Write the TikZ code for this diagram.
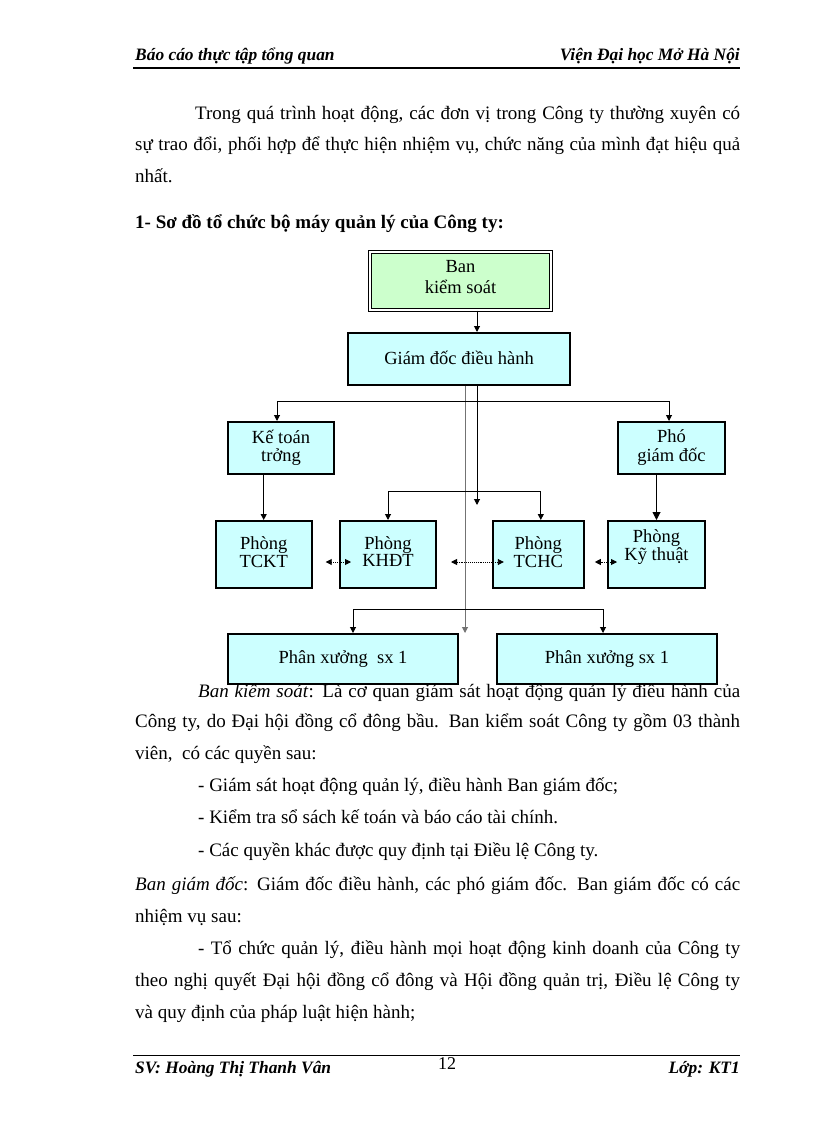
\documentclass[tikz,border=0pt]{standalone}
\usepackage{fontspec}
\setmainfont{Liberation Serif}
\usetikzlibrary{arrows.meta}
\definecolor{boxcyan}{RGB}{204,255,255}
\definecolor{boxgreen}{RGB}{204,255,204}
\tikzset{
  bodytxt/.style={anchor=base west, inner sep=0pt, font=\fontsize{19}{22}\selectfont},
  hdrtxt/.style={inner sep=0pt, font=\fontsize{17.4}{20}\selectfont\bfseries\itshape},
  orgbox/.style={draw=black, line width=2pt, fill=boxcyan, align=center, inner sep=0pt,
                 font=\fontsize{18.5}{17}\selectfont},
  conn/.style={line width=1pt, -{Triangle[length=6pt,width=6pt]}},
  bigconn/.style={line width=1pt, -{Triangle[length=8pt,width=8pt]}},
  plainconn/.style={line width=1pt},
  dotconn/.style={line width=0.9pt, densely dotted, {Triangle[length=6pt,width=6pt]}-{Triangle[length=6pt,width=6pt]}},
}
\begin{document}
\begin{tikzpicture}[x=1pt,y=-1pt]
\useasboundingbox (0,0) rectangle (816,1123);

% header
\node[hdrtxt, anchor=base west] (hl) at (135,61) {Báo cáo thực tập tổng quan};
\node[hdrtxt, anchor=base east] (hr) at (740,61) {Viện Đại học Mở Hà Nội};
\coordinate (hrl) at (133,68.5);
\coordinate (hrr) at (740,68.5);
\draw[line width=2pt] (hrl) -- (hrr);

% intro paragraph
\node[bodytxt] (t1) at (195,120) {\makebox[545pt][s]{Trong quá trình hoạt động, các đơn vị trong Công ty thường xuyên có}};
\node[bodytxt] (t2) at (135,151) {\makebox[605pt][s]{sự trao đổi, phối hợp để thực hiện nhiệm vụ, chức năng của mình đạt hiệu quả}};
\node[bodytxt] (t3) at (135,183) {nhất.};
\node[bodytxt, font=\fontsize{19}{22}\selectfont\bfseries] (t4) at (135,229) {1- Sơ đồ tổ chức bộ máy quản lý của Công ty:};

% body after chart
\node[bodytxt] (b1) at (198,697) {\makebox[542pt][s]{\textit{Ban kiểm soát}: Là cơ quan giám sát hoạt động quản lý điều hành của}};
\node[bodytxt] (b2) at (135,727) {\makebox[605pt][s]{Công ty, do Đại hội đồng cổ đông bầu. Ban kiểm soát Công ty gồm 03 thành}};
\node[bodytxt] (b3) at (135,759) {viên,\ \ có các quyền sau:};
\node[bodytxt] (b4) at (198,791) {- Giám sát hoạt động quản lý, điều hành Ban giám đốc;};
\node[bodytxt] (b5) at (198,823) {- Kiểm tra sổ sách kế toán và báo cáo tài chính.};
\node[bodytxt] (b6) at (198,856) {- Các quyền khác được quy định tại Điều lệ Công ty.};
\node[bodytxt] (b7) at (135,890) {\makebox[605pt][s]{\textit{Ban giám đốc}: Giám đốc điều hành, các phó giám đốc. Ban giám đốc có các}};
\node[bodytxt] (b8) at (135,922) {nhiệm vụ sau:};
\node[bodytxt] (b9) at (198,954) {\makebox[542pt][s]{- Tổ chức quản lý, điều hành mọi hoạt động kinh doanh của Công ty}};
\node[bodytxt] (b10) at (135,986) {\makebox[605pt][s]{theo nghị quyết Đại hội đồng cổ đông và Hội đồng quản trị, Điều lệ Công ty}};
\node[bodytxt] (b11) at (135,1018) {và quy định của pháp luật hiện hành;};

% org chart boxes
\node[orgbox, fill=boxgreen, double=white, double distance=2pt, line width=1pt,
      minimum width=181pt, minimum height=58pt, font=\fontsize{18.5}{21}\selectfont]
      (ban) at (460.5,281) {\raisebox{2pt}[\height][\depth]{\begin{tabular}{@{}c@{}}Ban\\kiểm soát\end{tabular}}};
\node[orgbox, minimum width=222pt, minimum height=52pt] (gd) at (459,359) {\raisebox{2pt}{Giám đốc điều hành}};
\node[orgbox, minimum width=106pt, minimum height=52pt] (kt) at (281,448) {\raisebox{4pt}{\begin{tabular}{@{}c@{}}Kế toán\\trởng\end{tabular}}};
\node[orgbox, minimum width=107pt, minimum height=52pt] (pgd) at (671.5,448) {\raisebox{4pt}{\begin{tabular}{@{}c@{}}Phó\\giám đốc\end{tabular}}};
\node[orgbox, minimum width=96pt, minimum height=67pt] (tckt) at (263.7,554.5) {\begin{tabular}{@{}c@{}}Phòng\\TCKT\end{tabular}};
\node[orgbox, minimum width=96pt, minimum height=67pt] (khdt) at (388,554.5) {\begin{tabular}{@{}c@{}}Phòng\\KHĐT\end{tabular}};
\node[orgbox, minimum width=91pt, minimum height=67pt] (tchc) at (538.3,554.5) {\begin{tabular}{@{}c@{}}Phòng\\TCHC\end{tabular}};
\node[orgbox, minimum width=97pt, minimum height=67pt] (kyt) at (656.5,554.5) {\raisebox{7pt}[\height][\depth]{\begin{tabular}{@{}c@{}}Phòng\\Kỹ thuật\end{tabular}}};
\node[orgbox, minimum width=230pt, minimum height=50pt] (px1) at (343,659) {Phân xưởng\ \ sx 1};
\node[orgbox, minimum width=220pt, minimum height=50pt] (px2) at (607,659) {Phân xưởng sx 1};

% connectors
\coordinate (cR) at (477,0);
\coordinate (cL) at (465,0);
\coordinate (eR) at (477,505);
\coordinate (eL) at (465,633);
\coordinate (bus1) at (0,401);
\coordinate (bus2) at (0,491);
\coordinate (bus3) at (0,609);

\draw[conn] (ban.south -| cR) -- (gd.north -| cR);
\draw[conn] (gd.south -| cR) -- (eR);
\draw[conn, draw=black!55] (gd.south -| cL) -- (eL);

% bus 1: Ke toan / Pho giam doc
\coordinate (k1) at ([xshift=-4pt]kt.north);
\coordinate (p1) at ([xshift=-2.5pt]pgd.north);
\draw[plainconn] (k1 |- bus1) -- (p1 |- bus1);
\draw[conn] (k1 |- bus1) -- (k1);
\draw[conn] (p1 |- bus1) -- (p1);

% vertical feeds
\draw[conn] (kt.south -| tckt.north) -- (tckt.north);
\draw[bigconn] (pgd.south -| kyt.north) -- (kyt.north);

% bus 2: KHDT / TCHC
\coordinate (t2a) at ([xshift=2.5pt]tchc.north);
\draw[plainconn] (khdt.north |- bus2) -- (t2a |- bus2);
\draw[conn] (khdt.north |- bus2) -- (khdt.north);
\draw[conn] (t2a |- bus2) -- (t2a);

% dotted links between departments
\draw[dotconn] ([xshift=13pt,yshift=-7.5pt]tckt.east) -- ([xshift=12pt,yshift=-7.5pt]khdt.west);
\draw[dotconn] ([xshift=14pt,yshift=-7.5pt]khdt.east) -- ([xshift=12pt,yshift=-7.5pt]tchc.west);
\draw[dotconn] ([xshift=10pt,yshift=-7.5pt]tchc.east) -- ([xshift=10pt,yshift=-7.5pt]kyt.west);

% bus 3: workshops
\coordinate (x1) at ([xshift=10pt]px1.north);
\coordinate (x2) at ([xshift=-4pt]px2.north);
\draw[plainconn] (x1 |- bus3) -- (x2 |- bus3);
\draw[conn] (x1 |- bus3) -- (x1);
\draw[conn] (x2 |- bus3) -- (x2);

% footer
\coordinate (frl) at (133,1055);
\coordinate (frr) at (740,1055);
\draw[line width=0.8pt] (frl) -- (frr);
\node[hdrtxt, anchor=base west] (fl) at (135,1073) {SV: Hoàng Thị Thanh Vân};
\node[inner sep=0pt, anchor=base, font=\fontsize{18}{20}\selectfont] (fc) at (447,1069) {12};
\node[hdrtxt, anchor=base east] (fr) at (740,1073) {Lớp: KT1};
\end{tikzpicture}
\end{document}
